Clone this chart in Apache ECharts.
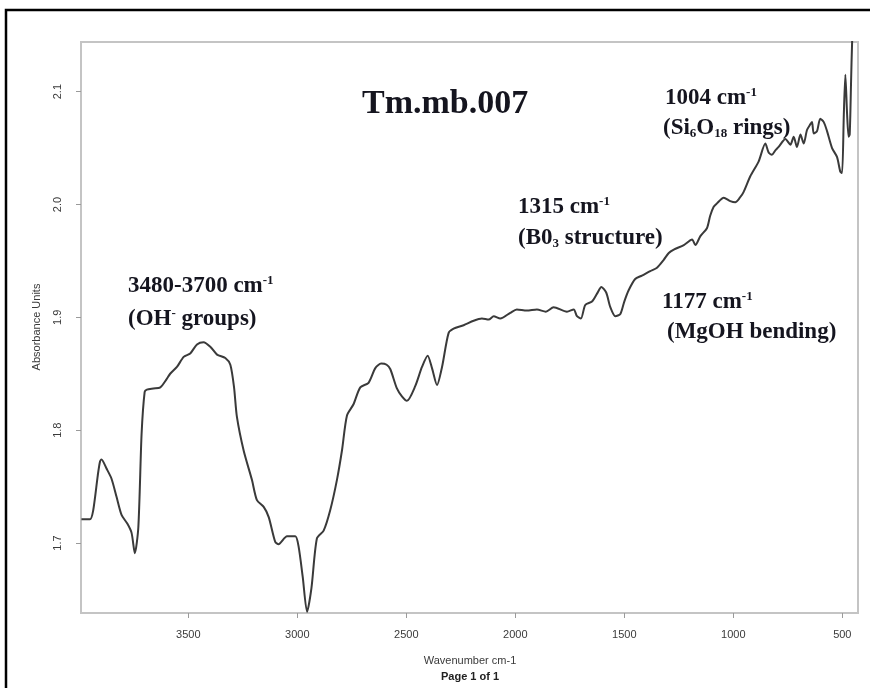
<!DOCTYPE html>
<html>
<head>
<meta charset="utf-8">
<script src="https://cdn.jsdelivr.net/npm/echarts@6/dist/echarts.min.js"></script>
<style>
  html, body { margin: 0; padding: 0; background: #fff; }
  #chart { width: 870px; height: 688px; }
</style>
</head>
<body>
<div id="chart"></div>
<script>
// FTIR absorbance spectrum, sample Tm.mb.007
const wavenumbers = [
  3990, 3951, 3936, 3915, 3905, 3898, 3875, 3852, 3829, 3806, 3779, 3760, 3745, 3729, 3714,
  3700, 3690, 3660, 3628, 3600, 3583, 3552, 3521, 3491, 3460, 3430, 3399, 3368, 3330, 3307,
  3290, 3277, 3246, 3208, 3185, 3154, 3131, 3101, 3086, 3047, 3009, 2994, 2975, 2955, 2935,
  2910, 2879, 2849, 2818, 2795, 2772, 2742, 2711, 2673, 2642, 2615, 2590, 2573, 2543, 2520,
  2497, 2459, 2428, 2402, 2382, 2359, 2336, 2306, 2283, 2237, 2191, 2153, 2122, 2099, 2069,
  2023, 1993, 1947, 1901, 1860, 1824, 1763, 1732, 1717, 1699, 1679, 1648, 1625, 1605, 1583,
  1564, 1541, 1518, 1500, 1480, 1450, 1419, 1381, 1350, 1319, 1296, 1273, 1227, 1189, 1174,
  1151, 1121, 1106, 1090, 1075, 1044, 1014, 991, 970, 953, 922, 884, 853, 838, 823,
  807, 792, 761, 738, 723, 708, 692, 677, 662, 647, 639, 631, 616, 601, 585,
  570, 547, 524, 509, 501, 493, 486, 478, 471, 466, 460, 455, 450
];
const absorbance = [
  1.721, 1.721, 1.729, 1.760, 1.772, 1.774, 1.766, 1.757, 1.741, 1.725, 1.717, 1.709, 1.691, 1.714, 1.797,
  1.834, 1.836, 1.837, 1.838, 1.845, 1.850, 1.856, 1.865, 1.868, 1.876, 1.878, 1.874, 1.867, 1.864, 1.858,
  1.838, 1.812, 1.782, 1.756, 1.738, 1.732, 1.723, 1.701, 1.699, 1.706, 1.706, 1.697, 1.670, 1.639, 1.660,
  1.704, 1.711, 1.729, 1.756, 1.782, 1.813, 1.823, 1.838, 1.842, 1.855, 1.859, 1.858, 1.854, 1.837, 1.830,
  1.826, 1.839, 1.856, 1.866, 1.855, 1.840, 1.856, 1.886, 1.890, 1.893, 1.897, 1.899, 1.898, 1.901, 1.899,
  1.904, 1.907, 1.906, 1.907, 1.905, 1.909, 1.905, 1.907, 1.901, 1.899, 1.911, 1.914, 1.921, 1.927, 1.922,
  1.909, 1.901, 1.903, 1.914, 1.924, 1.934, 1.937, 1.941, 1.944, 1.951, 1.957, 1.960, 1.964, 1.969, 1.964,
  1.972, 1.979, 1.990, 1.998, 2.001, 2.006, 2.003, 2.002, 2.006, 2.011, 2.025, 2.038, 2.054, 2.046, 2.044,
  2.048, 2.051, 2.058, 2.053, 2.060, 2.051, 2.062, 2.054, 2.066, 2.071, 2.073, 2.063, 2.065, 2.076, 2.073,
  2.065, 2.050, 2.042, 2.029, 2.028, 2.080, 2.115, 2.080, 2.060, 2.062, 2.107, 2.144, 2.160
];
const xTicks = [3500, 3000, 2500, 2000, 1500, 1000, 500];
const yTicks = [1.7, 1.8, 1.9, 2.0, 2.1];

const serif = "'Liberation Serif', 'Times New Roman', serif";
const sans = "'Liberation Sans', Arial, sans-serif";
const ink = '#15151f';
const FS = 23;

// one line of band annotation; {sup|..} raised, {sub|..} lowered
function bandLine(x, centerY, text) {
  return {
    type: 'text', left: x, top: centerY - 10, z: 10,
    style: {
      text: text,
      font: 'bold ' + FS + 'px ' + serif,
      fill: ink,
      rich: {
        m: { fontFamily: serif, fontWeight: 'bold', fontSize: FS, lineHeight: 24, fill: ink, verticalAlign: 'bottom' },
        sup: { fontFamily: serif, fontWeight: 'bold', fontSize: 13, lineHeight: 13, fill: ink, verticalAlign: 'top' },
        sub: { fontFamily: serif, fontWeight: 'bold', fontSize: 13, lineHeight: 13, fill: ink, verticalAlign: 'bottom' }
      }
    }
  };
}

const chart = echarts.init(document.getElementById('chart'), null, { renderer: 'canvas' });
chart.setOption({
  animation: false,
  backgroundColor: '#ffffff',
  grid: {
    left: 81, right: 12, top: 42, bottom: 75,
    show: true, borderColor: '#c4c4c4', borderWidth: 2, backgroundColor: 'transparent'
  },
  xAxis: {
    type: 'value', inverse: true, min: 428, max: 3992,
    axisLine: { show: true, lineStyle: { color: '#c4c4c4', width: 2 } },
    axisTick: { show: true, customValues: xTicks, length: 5, lineStyle: { color: '#9a9a9a', width: 1 } },
    axisLabel: {
      customValues: xTicks, margin: 16, color: '#3a3a3a', fontFamily: sans, fontSize: 11,
      formatter: v => String(v)
    },
    splitLine: { show: false }
  },
  yAxis: {
    type: 'value', min: 1.638, max: 2.144,
    axisLine: { show: true, lineStyle: { color: '#c4c4c4', width: 2 } },
    axisTick: { show: true, customValues: yTicks, length: 5, lineStyle: { color: '#9a9a9a', width: 1 } },
    axisLabel: {
      customValues: yTicks, rotate: 90, margin: 18, color: '#3a3a3a', fontFamily: sans, fontSize: 11,
      formatter: v => v.toFixed(1)
    },
    splitLine: { show: false }
  },
  series: [{
    type: 'line',
    data: wavenumbers.map((w, i) => [w, absorbance[i]]),
    showSymbol: false,
    smooth: 0.25,
    clip: true,
    lineStyle: { color: '#3a3a3a', width: 2 }
  }],
  graphic: [
    { type: 'rect', shape: { x: 6, y: 10, width: 900, height: 720 }, style: { fill: 'none', stroke: '#000', lineWidth: 2.5 }, z: 20 },
    {
      type: 'text', x: 37, y: 327, rotation: Math.PI / 2, z: 10,
      style: { text: 'Absorbance Units', font: '11px ' + sans, fill: '#3a3a3a', align: 'center', verticalAlign: 'middle' }
    },
    {
      type: 'text', x: 470, y: 661, z: 10,
      style: { text: 'Wavenumber cm-1', font: '11px ' + sans, fill: '#3a3a3a', align: 'center', verticalAlign: 'middle' }
    },
    {
      type: 'text', x: 470, y: 677, z: 10,
      style: { text: 'Page 1 of 1', font: 'bold 11px ' + sans, fill: '#222', align: 'center', verticalAlign: 'middle' }
    },
    {
      type: 'text', left: 362, top: 87, z: 10,
      style: { text: 'Tm.mb.007', font: 'bold 34px ' + serif, fill: ink }
    },
    bandLine(665, 96, '{m|1004 cm}{sup|-1}'),
    bandLine(663, 127, '{m|(Si}{sub|6}{m|O}{sub|18}{m| rings)}'),
    bandLine(518, 205, '{m|1315 cm}{sup|-1}'),
    bandLine(518, 237, '{m|(B0}{sub|3}{m| structure)}'),
    bandLine(128, 284, '{m|3480-3700 cm}{sup|-1}'),
    bandLine(128, 317, '{m|(OH}{sup|-}{m| groups)}'),
    bandLine(662, 300, '{m|1177 cm}{sup|-1}'),
    bandLine(667, 331, '{m|(MgOH bending)}')
  ]
});
</script>
</body>
</html>
